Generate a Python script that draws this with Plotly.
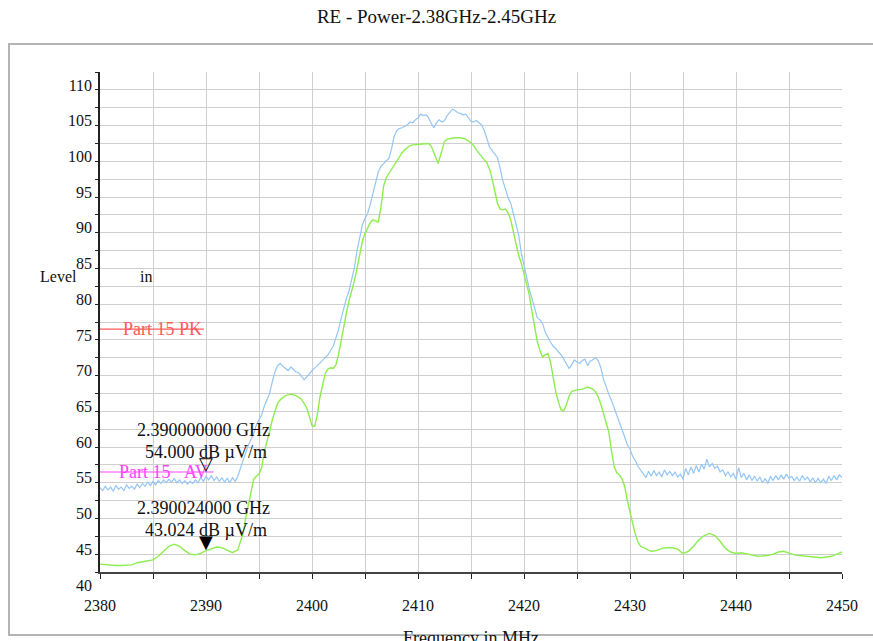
import plotly.graph_objects as go

# ---------------- data ----------------
pk_freq = [
    2380.0, 2380.25, 2380.5, 2380.75, 2381.0, 2381.25, 2381.5, 2381.75, 2382.0, 2382.25,
    2382.5, 2382.75, 2383.0, 2383.25, 2383.5, 2383.75, 2384.0, 2384.25, 2384.5, 2384.75,
    2385.0, 2385.25, 2385.5, 2385.75, 2386.0, 2386.25, 2386.5, 2386.75, 2387.0, 2387.25,
    2387.5, 2387.75, 2388.0, 2388.25, 2388.5, 2388.75, 2389.0, 2389.25, 2389.5, 2389.75,
    2390.0, 2390.25, 2390.5, 2390.75, 2391.0, 2391.25, 2391.5, 2391.75, 2392.0, 2392.25,
    2392.5, 2392.75, 2393.0, 2393.25, 2393.5, 2393.75, 2394.0, 2394.25, 2394.5, 2394.75,
    2395.0, 2395.25, 2395.5, 2395.75, 2396.0, 2396.25, 2396.5, 2396.75, 2397.0, 2397.25,
    2397.5, 2397.75, 2398.0, 2398.25, 2398.5, 2398.75, 2399.0, 2399.25, 2399.5, 2399.75,
    2400.0, 2400.5, 2401.0, 2401.5, 2402.0, 2402.25, 2402.5, 2402.75, 2403.0, 2403.25,
    2403.5, 2403.75, 2404.0, 2404.25, 2404.5, 2404.75, 2405.0, 2405.25, 2405.5, 2405.75,
    2406.0, 2406.25, 2406.5, 2406.75, 2407.0, 2407.25, 2407.5, 2407.75, 2408.0, 2408.25,
    2408.5, 2408.75, 2409.0, 2409.25, 2409.5, 2409.75, 2410.0, 2410.25, 2410.5, 2410.75,
    2411.0, 2411.25, 2411.5, 2411.75, 2412.0, 2412.25, 2412.5, 2412.75, 2413.0, 2413.25,
    2413.5, 2413.75, 2414.0, 2414.25, 2414.5, 2414.75, 2415.0, 2415.25, 2415.5, 2415.75,
    2416.0, 2416.25, 2416.5, 2416.75, 2417.0, 2417.25, 2417.5, 2417.75, 2418.0, 2418.25,
    2418.5, 2418.75, 2419.0, 2419.25, 2419.5, 2419.75, 2420.0, 2420.25, 2420.5, 2420.75,
    2421.0, 2421.25, 2421.5, 2421.75, 2422.0, 2422.25, 2422.5, 2422.75, 2423.0, 2423.25,
    2423.5, 2423.75, 2424.0, 2424.25, 2424.5, 2424.75, 2425.0, 2425.25, 2425.5, 2425.75,
    2426.0, 2426.25, 2426.5, 2426.75, 2427.0, 2427.25, 2427.5, 2427.75, 2428.0, 2428.25,
    2428.5, 2428.75, 2429.0, 2429.25, 2429.5, 2429.75, 2430.0, 2430.25, 2430.5, 2430.75,
    2431.0, 2431.25, 2431.5, 2431.75, 2432.0, 2432.25, 2432.5, 2432.75, 2433.0, 2433.25,
    2433.5, 2433.75, 2434.0, 2434.25, 2434.5, 2434.75, 2435.0, 2435.25, 2435.5, 2435.75,
    2436.0, 2436.25, 2436.5, 2436.75, 2437.0, 2437.25, 2437.5, 2437.75, 2438.0, 2438.25,
    2438.5, 2438.75, 2439.0, 2439.25, 2439.5, 2439.75, 2440.0, 2440.25, 2440.5, 2440.75,
    2441.0, 2441.25, 2441.5, 2441.75, 2442.0, 2442.25, 2442.5, 2442.75, 2443.0, 2443.25,
    2443.5, 2443.75, 2444.0, 2444.25, 2444.5, 2444.75, 2445.0, 2445.25, 2445.5, 2445.75,
    2446.0, 2446.25, 2446.5, 2446.75, 2447.0, 2447.25, 2447.5, 2447.75, 2448.0, 2448.25,
    2448.5, 2448.75, 2449.0, 2449.25, 2449.5, 2449.75, 2450.0,
]
pk_level = [
    51.8, 51.4, 52.0, 51.5, 51.9, 51.3, 52.1, 51.6, 51.9, 51.4,
    52.2, 51.7, 52.0, 51.6, 52.3, 51.8, 52.4, 52.0, 52.6, 52.1,
    52.7, 52.2, 52.8, 52.4, 52.9, 52.5, 53.0, 52.6, 53.1, 52.5,
    52.9, 52.4, 52.8, 52.3, 52.7, 52.4, 52.9, 52.5, 53.2, 52.7,
    53.4, 52.9, 53.5, 52.8, 53.3, 52.7, 53.2, 52.6, 53.1, 52.5,
    53.2, 52.7, 53.4, 54.5, 55.8, 57.0, 57.8, 58.6, 59.4, 60.6,
    61.2, 62.0, 63.2, 64.0, 65.0, 66.6, 68.0, 68.9, 69.2, 68.8,
    68.5, 68.2, 68.7, 68.3, 68.0, 67.9, 67.4, 66.9, 67.3, 67.8,
    68.2, 68.9, 69.6, 70.4, 71.6, 72.8, 73.9, 75.5, 77.0, 78.3,
    79.4, 80.8, 82.6, 85.0, 86.8, 88.6, 89.5, 90.2, 91.5, 93.0,
    94.6, 96.0, 96.8, 97.2, 97.5, 97.9, 99.2, 101.0, 101.8, 102.1,
    102.2, 102.4, 102.6, 103.0, 102.9, 103.3, 103.6, 104.1, 103.9, 104.0,
    103.6, 102.8, 102.2, 102.9, 103.3, 103.0, 103.2, 103.9, 104.4, 104.8,
    104.6, 104.3, 104.2, 104.0, 104.1, 103.6, 103.1, 103.0, 103.2, 102.9,
    102.6, 101.8, 100.5, 99.5, 99.0, 98.5, 98.0, 96.5, 94.8, 93.6,
    92.4, 91.6, 90.2, 88.4, 87.2, 84.6, 82.8, 81.2, 79.6, 78.3,
    76.8, 75.6, 75.3, 74.8, 73.6, 72.8, 72.2, 71.6, 71.3, 70.8,
    70.4, 69.8, 69.2, 68.5, 69.0, 69.7, 69.4, 69.2, 69.6, 69.8,
    68.9, 69.5, 69.7, 70.0, 69.6, 68.6, 67.0, 65.8, 64.9, 64.0,
    63.0, 62.1, 60.9, 59.8, 58.9, 57.8, 57.2, 56.2, 55.6, 54.8,
    54.3, 53.7, 53.2, 54.1, 53.4, 54.2, 53.5, 54.0, 53.3, 54.3,
    53.6, 54.1, 53.5, 54.0, 53.3, 53.7, 53.0, 54.5, 53.6, 54.7,
    53.8, 54.9, 54.0, 55.1, 54.4, 55.8, 54.7, 55.2, 54.5, 54.8,
    54.0, 54.3, 53.5, 54.0, 53.3, 53.8, 53.0, 54.6, 53.2, 53.8,
    52.9, 53.6, 52.8, 53.4, 52.7, 53.3, 52.5, 53.1, 52.4, 53.4,
    52.8, 53.5, 52.9, 53.6, 53.0, 53.7, 53.1, 53.4, 52.8, 53.3,
    52.7, 53.5, 52.9, 53.3, 52.6, 53.2, 52.5, 53.1, 52.5, 53.0,
    52.4, 53.4, 52.8, 53.5, 52.9, 53.6, 53.2,
]

av_freq = [
    2380.0, 2380.5, 2381.0, 2381.5, 2382.0, 2382.5, 2383.0, 2383.5, 2384.0, 2384.5,
    2385.0, 2385.5, 2386.0, 2386.5, 2387.0, 2387.5, 2388.0, 2388.5, 2389.0, 2389.5,
    2390.0, 2390.5, 2391.0, 2391.5, 2392.0, 2392.5, 2393.0, 2393.25, 2393.5, 2393.75,
    2394.0, 2394.25, 2394.5, 2394.75, 2395.0, 2395.25, 2395.5, 2395.75, 2396.0, 2396.25,
    2396.5, 2396.75, 2397.0, 2397.5, 2398.0, 2398.5, 2399.0, 2399.25, 2399.5, 2399.75,
    2400.0, 2400.25, 2400.5, 2400.75, 2401.0, 2401.25, 2401.5, 2401.75, 2402.0, 2402.25,
    2402.5, 2402.75, 2403.0, 2403.25, 2403.5, 2403.75, 2404.0, 2404.25, 2404.5, 2404.75,
    2405.0, 2405.25, 2405.5, 2405.75, 2406.0, 2406.25, 2406.5, 2406.75, 2407.0, 2407.25,
    2407.5, 2407.75, 2408.0, 2408.25, 2408.5, 2408.75, 2409.0, 2409.25, 2409.5, 2410.0,
    2410.5, 2411.0, 2411.25, 2411.5, 2411.75, 2411.9, 2412.1, 2412.3, 2412.5, 2412.75,
    2413.0, 2413.5, 2414.0, 2414.5, 2415.0, 2415.25, 2415.5, 2415.75, 2416.0, 2416.25,
    2416.5, 2416.75, 2417.0, 2417.25, 2417.5, 2417.75, 2418.0, 2418.25, 2418.5, 2418.75,
    2419.0, 2419.25, 2419.5, 2419.75, 2420.0, 2420.25, 2420.5, 2420.75, 2421.0, 2421.25,
    2421.5, 2421.75, 2422.0, 2422.25, 2422.5, 2422.75, 2423.0, 2423.25, 2423.5, 2423.75,
    2424.0, 2424.25, 2424.5, 2425.0, 2425.5, 2426.0, 2426.5, 2426.75, 2427.0, 2427.25,
    2427.5, 2427.75, 2428.0, 2428.25, 2428.5, 2428.75, 2429.0, 2429.25, 2429.5, 2429.75,
    2430.0, 2430.25, 2430.5, 2430.75, 2431.0, 2431.5, 2432.0, 2432.5, 2433.0, 2433.5,
    2434.0, 2434.5, 2435.0, 2435.5, 2436.0, 2436.5, 2437.0, 2437.5, 2438.0, 2438.5,
    2439.0, 2439.5, 2440.0, 2440.5, 2441.0, 2441.5, 2442.0, 2442.5, 2443.0, 2443.5,
    2444.0, 2444.5, 2445.0, 2445.5, 2446.0, 2446.5, 2447.0, 2447.5, 2448.0, 2448.5,
    2449.0, 2449.5, 2450.0,
]
av_level = [
    41.1, 41.0, 41.0, 40.9, 40.9, 40.9, 41.0, 41.3, 41.4, 41.5,
    41.7, 42.2, 42.9, 43.6, 43.9, 43.6, 43.0, 42.5, 42.4, 42.6,
    43.0, 43.2, 43.5, 43.4, 43.0, 42.7, 43.1, 44.2, 45.4, 47.6,
    49.3, 51.0, 53.0, 53.4, 53.7, 54.6, 56.8, 58.3, 59.6, 61.3,
    62.6, 63.6, 64.1, 64.7, 64.9, 64.7, 64.2, 63.6, 63.0, 61.8,
    60.5, 60.4, 62.0, 64.5, 66.3, 67.8, 68.4, 68.6, 68.5, 69.0,
    70.4, 72.5, 74.5, 76.3, 78.0, 79.3, 80.8, 82.5, 84.6, 86.3,
    87.4, 88.2, 88.9, 89.3, 89.2, 89.0, 91.0, 94.0, 95.2, 95.8,
    96.4, 97.0, 97.6, 98.2, 98.7, 99.1, 99.4, 99.7, 99.8, 99.9,
    100.0, 100.0, 99.6, 98.8, 97.8, 97.2, 98.3, 99.6, 100.3, 100.6,
    100.7, 100.8, 100.8, 100.6, 100.1, 99.7, 99.1, 98.6, 98.2, 97.7,
    97.3, 96.4, 95.0, 93.4, 91.6, 90.8, 90.7, 90.8, 90.3, 89.3,
    87.6, 85.8, 84.3, 83.2, 81.8, 80.6, 78.8, 76.5, 74.3, 72.3,
    71.0, 70.1, 70.4, 70.6, 69.4, 67.2, 65.2, 63.8, 62.7, 62.6,
    63.4, 64.6, 65.3, 65.5, 65.6, 65.9, 65.6, 65.2, 64.5, 63.5,
    62.3, 61.0, 59.6, 57.0, 54.8, 53.9, 53.6, 53.0, 52.0, 50.0,
    48.2, 46.8, 45.3, 44.2, 43.6, 43.2, 42.9, 43.0, 43.3, 43.4,
    43.4, 43.2, 42.6, 42.9, 43.6, 44.5, 45.1, 45.4, 45.1, 44.3,
    43.3, 42.8, 42.6, 42.7, 42.6, 42.4, 42.2, 42.2, 42.3, 42.5,
    42.8, 42.9, 42.6, 42.4, 42.3, 42.2, 42.2, 42.1, 42.0, 42.1,
    42.2, 42.5, 42.8,
]

# limit lines (dBuV/m) and where they are drawn
pk_limit_freq = [2380.0, 2389.8]
pk_limit_level = [74.0, 74.0]
av_limit_freq = [2380.0, 2390.7]
av_limit_level = [54.0, 54.0]

# markers
mk_freq = [2390.000000, 2390.024000]
mk_level = [54.000, 43.024]
mk_label_ghz = ["2.390000000 GHz", "2.390024000 GHz"]
mk_label_lvl = ["54.000 dB \u00b5V/m", "43.024 dB \u00b5V/m"]

title_text = "RE - Power-2.38GHz-2.45GHz"

# ---------------- layout geometry ----------------
W, H = 873, 641
L, R, T, B = 100, 31, 72, 69
PW, PH = W - L - R, H - T - B
SERIF = "Liberation Serif, Times New Roman, serif"


def px_x(px):
    return (px - L) / PW


def px_y(py):
    return (H - B - py) / PH


fig = go.Figure()

fig.add_trace(go.Scatter(x=pk_freq, y=pk_level, mode="lines",
                         line=dict(color="#94c6f6", width=1.2), hoverinfo="skip"))
fig.add_trace(go.Scatter(x=av_freq, y=av_level, mode="lines",
                         line=dict(color="#8cee4e", width=1.4), hoverinfo="skip"))
fig.add_trace(go.Scatter(x=pk_limit_freq, y=pk_limit_level, mode="lines",
                         line=dict(color="#ff5a5a", width=1.2), hoverinfo="skip"))
fig.add_trace(go.Scatter(x=av_limit_freq, y=av_limit_level, mode="lines",
                         line=dict(color="#ff44ff", width=1.2), hoverinfo="skip"))

annotations = []
# limit labels
annotations.append(dict(x=2382.0, y=pk_limit_level[0], xref="x", yref="y", text="Part 15 PK",
                        showarrow=False, xanchor="left", yanchor="middle",
                        font=dict(family=SERIF, size=18, color="#ff5a5a")))
annotations.append(dict(x=2381.6, y=av_limit_level[0], xref="x", yref="y", text="Part 15\u00a0\u00a0\u00a0AV",
                        showarrow=False, xanchor="left", yanchor="middle",
                        font=dict(family=SERIF, size=18, color="#ff44ff")))
# marker glyphs
for f, v, sym in zip(mk_freq, mk_level, ["\u25bd", "\u25bc"]):
    annotations.append(dict(x=f, y=v, xref="x", yref="y", text=sym, showarrow=False,
                            xanchor="center", yanchor="bottom", yshift=-4,
                            font=dict(family="DejaVu Sans", size=18, color="#000000")))
# marker texts
for f, v, g, lv in zip(mk_freq, mk_level, mk_label_ghz, mk_label_lvl):
    annotations.append(dict(x=f, y=v, xref="x", yref="y", text=g, showarrow=False,
                            xanchor="center", yanchor="middle", xshift=-3, yshift=42,
                            font=dict(family=SERIF, size=18, color="#111111")))
    annotations.append(dict(x=f, y=v, xref="x", yref="y", text=lv, showarrow=False,
                            xanchor="center", yanchor="middle", xshift=0, yshift=20,
                            font=dict(family=SERIF, size=18, color="#111111")))
# y axis title pieces
annotations.append(dict(x=px_x(58), y=px_y(276), xref="paper", yref="paper", text="Level",
                        showarrow=False, xanchor="center", yanchor="middle",
                        font=dict(family=SERIF, size=16, color="#111111")))
annotations.append(dict(x=px_x(146), y=px_y(276), xref="paper", yref="paper", text="in",
                        showarrow=False, xanchor="center", yanchor="middle",
                        font=dict(family=SERIF, size=16, color="#111111")))
# x axis title (partly cut by the page bottom)
annotations.append(dict(x=0.5, y=px_y(638), xref="paper", yref="paper", text="Frequency in MHz",
                        showarrow=False, xanchor="center", yanchor="middle",
                        font=dict(family=SERIF, size=18, color="#111111")))

grid_col = "#cfcfcf"

fig.update_layout(
    width=W, height=H,
    margin=dict(l=L, r=R, t=T, b=B, pad=0, autoexpand=False),
    paper_bgcolor="white", plot_bgcolor="white",
    showlegend=False,
    font=dict(family=SERIF, size=15, color="#111111"),
    title=dict(text=title_text, x=0.5, xref="container", xanchor="center",
               y=1 - 16 / H, yref="container", yanchor="middle", automargin=False,
               font=dict(family=SERIF, size=19, color="#111111")),
    xaxis=dict(range=[2380, 2450], tick0=2380, dtick=10, ticks="outside", ticklen=5,
               tickcolor="#222", tickwidth=1.2, showline=True, linecolor="#444", linewidth=2,
               showgrid=True, gridcolor=grid_col, gridwidth=1, zeroline=False, automargin=False,
               ticklabelstandoff=13, tickfont=dict(family=SERIF, size=16, color="#111"),
               minor=dict(tick0=2380, dtick=5, ticks="outside", ticklen=5, tickcolor="#222",
                          tickwidth=1.2, showgrid=True, gridcolor=grid_col, gridwidth=1)),
    yaxis=dict(range=[40, 110], tick0=40, dtick=5, ticks="outside", ticklen=3,
               tickcolor="#222", tickwidth=1.2, showline=True, linecolor="#222", linewidth=1.5,
               showgrid=True, gridcolor=grid_col, gridwidth=1.2, zeroline=False, automargin=False,
               ticklabelshift=13, tickfont=dict(family=SERIF, size=16, color="#111"),
               minor=dict(tick0=40, dtick=2.5, ticks="outside", ticklen=3, tickcolor="#222",
                          tickwidth=1.2, showgrid=True, gridcolor=grid_col, gridwidth=1.2)),
    xaxis2=dict(range=[2380, 2450], overlaying="x", anchor="y", side="bottom", automargin=False,
                tick0=2380, dtick=5, ticks="inside", ticklen=3, tickcolor="#222", tickwidth=1.2,
                showticklabels=False, showgrid=False, showline=False, zeroline=False),
    yaxis2=dict(range=[40, 110], overlaying="y", anchor="x", side="left", automargin=False,
                tick0=40, dtick=2.5, ticks="inside", ticklen=5, tickcolor="#222", tickwidth=1.2,
                showticklabels=False, showgrid=False, showline=False, zeroline=False),
    annotations=annotations,
    shapes=[dict(type="rect", xref="paper", yref="paper", layer="below",
                 x0=px_x(9), x1=px_x(890), y0=px_y(635), y1=px_y(44),
                 line=dict(color="#b4b4b4", width=2), fillcolor="rgba(0,0,0,0)")],
)

fig.write_html("out.html", config={"displayModeBar": False},
               post_script="document.body.style.margin='0px';")
